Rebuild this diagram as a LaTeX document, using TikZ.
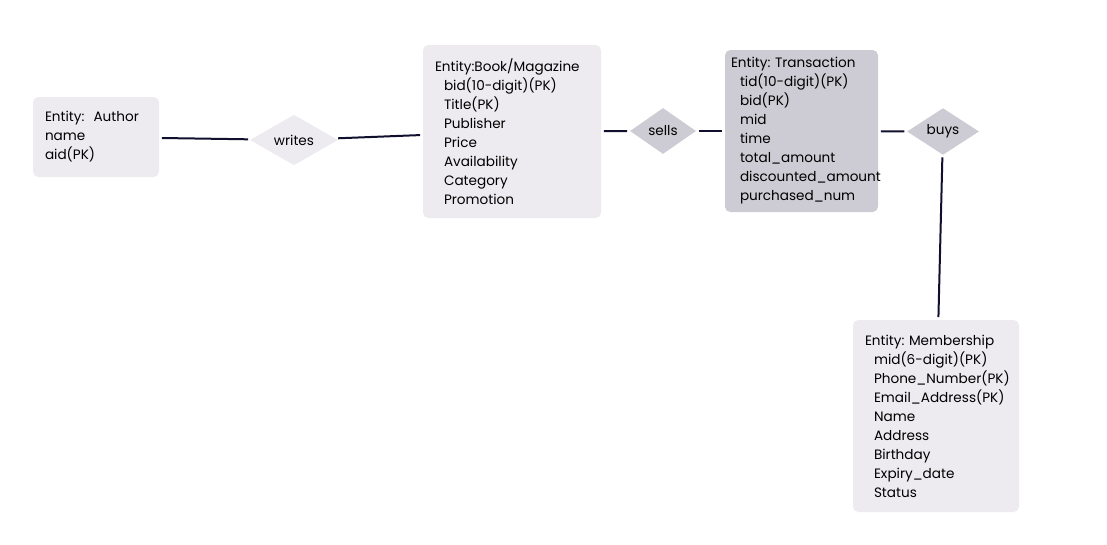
\documentclass[tikz,border=0pt]{standalone}
\usepackage{fontspec}
\setmainfont{Poppins}
\usetikzlibrary{shapes.geometric}
\definecolor{boxlight}{RGB}{237,235,239}
\definecolor{boxdark}{RGB}{205,204,212}
\definecolor{linknavy}{RGB}{16,16,46}
\newcommand{\ind}{\hspace*{6.75pt}}
\hyphenpenalty=10000
\exhyphenpenalty=10000
\begin{document}
\begin{tikzpicture}[x=0.75pt, y=-0.75pt,
  entity/.style={rounded corners=4pt, align=left, inner ysep=0pt, font=\fontsize{10.2}{14.25}\selectfont},
  relation/.style={diamond, inner sep=0pt, font=\fontsize{10.2}{14.25}\selectfont},
  link/.style={draw=linknavy, line width=1.5pt, shorten <=2pt, shorten >=2pt}]
\useasboundingbox (0,0) rectangle (1107,544);
\node[entity, fill=boxlight, inner xsep=9pt, text width=76.5pt, minimum height=60pt] (author) at (96,137) {Entity:\ \ Author\\name\\aid(PK)};
\node[relation, fill=boxlight, minimum width=66pt, minimum height=35pt] (writes) at (294,140) {writes};
\node[entity, fill=boxlight, inner xsep=9pt, text width=115.5pt, minimum height=129.75pt] (book) at (512,131.5) {Entity:Book/Magazine\\\ind bid(10-digit)(PK)\\\ind Title(PK)\\\ind Publisher\\\ind Price\\\ind Availability\\\ind Category\\\ind Promotion};
\node[relation, fill=boxdark, minimum width=49.5pt, minimum height=34.5pt] (sells) at (663,131) {sells};
\node[entity, fill=boxdark, inner xsep=4.5pt, text width=105.75pt, minimum height=121.5pt] (trans) at (801.5,131) {Entity:~Transaction\\\ind tid(10-digit)(PK)\\\ind bid(PK)\\\ind mid\\\ind time\\\ind total\_amount\\\ind discounted\_amount\\\ind purchased\_num};
\node[relation, fill=boxdark, minimum width=54pt, minimum height=35pt] (buys) at (943,131.5) {buys};
\node[entity, fill=boxlight, inner xsep=9pt, text width=106.5pt, minimum height=144pt] (member) at (936,416) {Entity:~Membership\\\ind mid(6-digit)(PK)\\\ind Phone\_Number(PK)\\\ind Email\_Address(PK)\\\ind Name\\\ind Address\\\ind Birthday\\\ind Expiry\_date\\\ind Status};
\draw[link] (author) -- (writes);
\draw[link] (writes) -- (book);
\draw[link] (book) -- (sells);
\draw[link] (sells) -- (trans);
\draw[link] (trans) -- (buys);
\draw[link] (buys) -- (member);
\end{tikzpicture}
\end{document}
